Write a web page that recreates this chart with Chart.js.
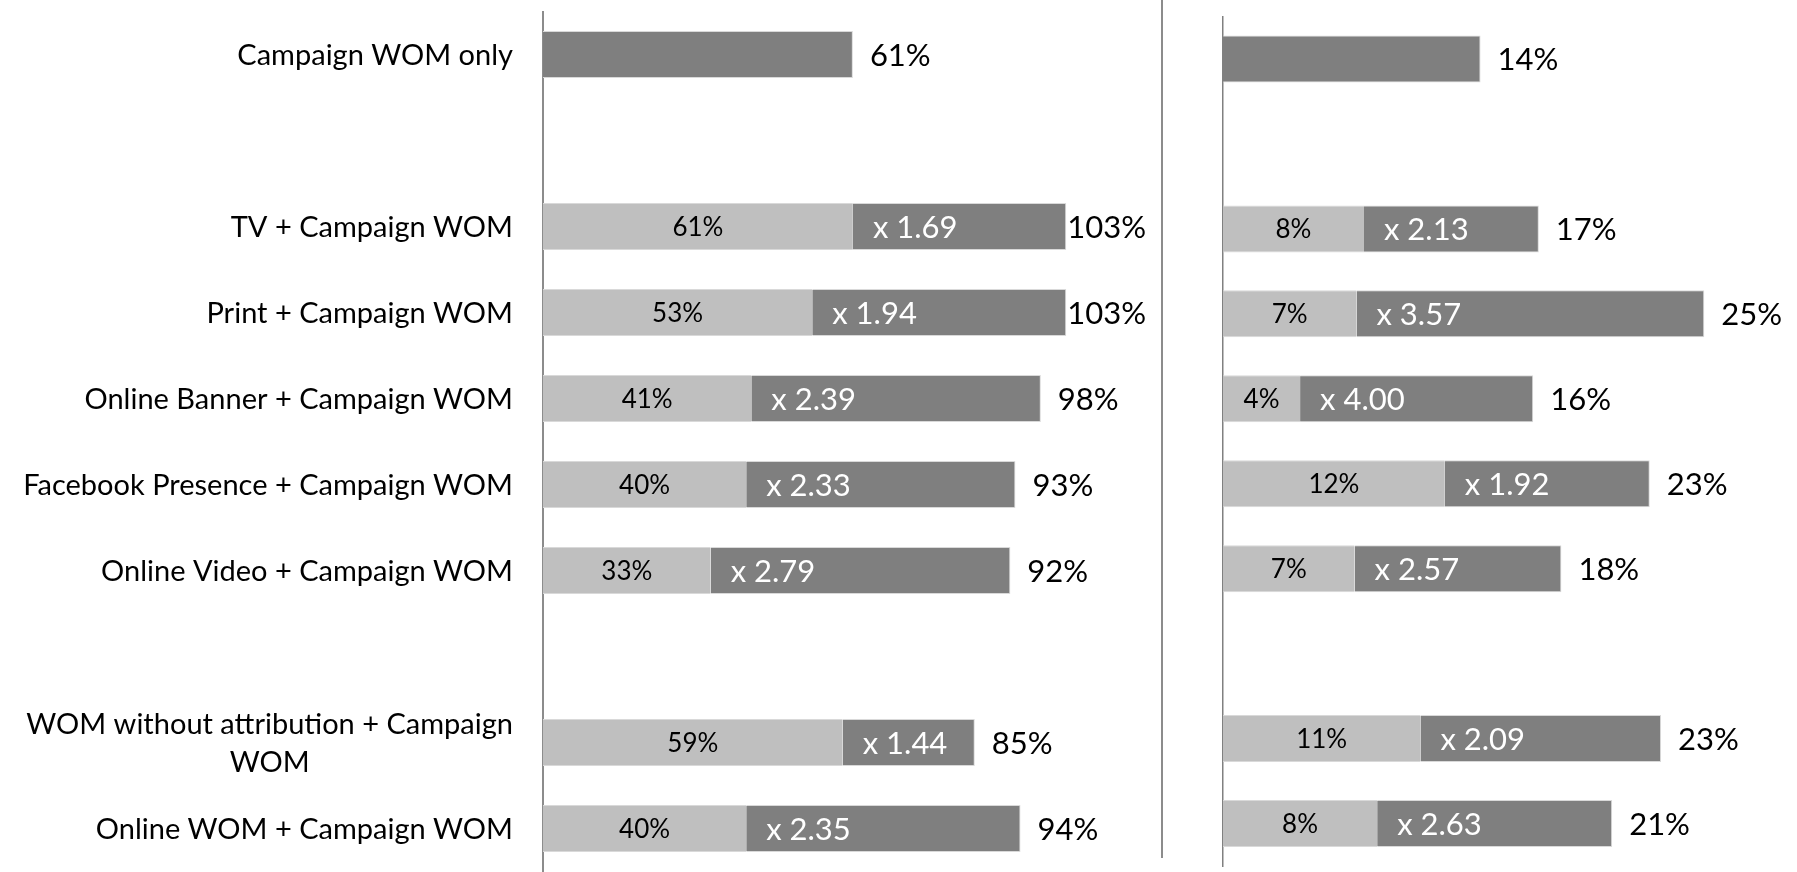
<!DOCTYPE html>
<html><head><meta charset="utf-8">
<script src="https://cdn.jsdelivr.net/npm/chart.js@4.4.0/dist/chart.umd.min.js"></script>
<style>
html,body{margin:0;padding:0;background:#fff;width:1797px;height:872px;overflow:hidden}
#wrapL{position:absolute;left:0;top:0;width:1160px;height:872px}
#wrapR{position:absolute;left:1160px;top:0;width:637px;height:872px}
#divider{position:absolute;left:1161px;top:0;width:2px;height:858px;background:#8c8c8c}
</style></head><body>
<div id="wrapL"><canvas id="cL" width="1160" height="872"></canvas></div>
<div id="wrapR"><canvas id="cR" width="637" height="872"></canvas></div>
<div id="divider"></div>
<script>
// ---- data ----
const categories = [
  'Campaign WOM only', '',
  'TV + Campaign WOM',
  'Print + Campaign WOM',
  'Online Banner + Campaign WOM',
  'Facebook Presence + Campaign WOM',
  'Online Video + Campaign WOM', '',
  ['WOM without attribution + Campaign', 'WOM'],
  'Online WOM + Campaign WOM'
];
// left panel
const leftBase  = [null, null, 61, 53, 41, 40, 33, null, 59, 40];
const leftTotal = [61, null, 103, 103, 98, 93, 92, null, 85, 94];
const leftBaseLabels  = ['', '', '61%', '53%', '41%', '40%', '33%', '', '59%', '40%'];
const leftMultLabels  = ['', '', 'x 1.69', 'x 1.94', 'x 2.39', 'x 2.33', 'x 2.79', '', 'x 1.44', 'x 2.35'];
const leftTotalLabels = ['61%', '', '103%', '103%', '98%', '93%', '92%', '', '85%', '94%'];
// right panel
const rightBase  = [null, null, 7.5, 7.1, 4.1, 11.8, 7.0, null, 10.5, 8.2];
const rightTotal = [13.7, null, 16.8, 25.6, 16.5, 22.7, 18.0, null, 23.3, 20.7];
const rightBaseLabels  = ['', '', '8%', '7%', '4%', '12%', '7%', '', '11%', '8%'];
const rightMultLabels  = ['', '', 'x 2.13', 'x 3.57', 'x 4.00', 'x 1.92', 'x 2.57', '', 'x 2.09', 'x 2.63'];
const rightTotalLabels = ['14%', '', '17%', '25%', '16%', '23%', '18%', '', '23%', '21%'];

// ---- styling ----
const FONT = 'Lato, "Open Sans", sans-serif';
const LIGHT = '#bfbfbf', DARK = '#7f7f7f', EDGE = '#d9d9d9';
const CAP = 0.72;
const CAT_SIZE = 29, BASE_SIZE = 26, MULT_SIZE = 31, TOTAL_SIZE = 31;

function textAt(ctx, txt, x, yc, size, color, align) {
  ctx.font = size + 'px ' + FONT;
  ctx.fillStyle = color;
  ctx.textAlign = align;
  ctx.textBaseline = 'alphabetic';
  ctx.fillText(txt, x, yc + CAP * size / 2);
}

function makeLabelPlugin(o) {
  return {
    id: 'barLabels',
    afterDatasetsDraw(chart) {
      const ctx = chart.ctx;
      const m0 = chart.getDatasetMeta(0), m1 = chart.getDatasetMeta(1);
      const yScale = chart.scales.y;
      ctx.save();
      if (o.categories) {
        o.categories.forEach((lab, i) => {
          const lines = Array.isArray(lab) ? lab : [lab];
          if (!lines[0]) return;
          const yc = yScale.getPixelForValue(i);
          ctx.font = CAT_SIZE + 'px ' + FONT;
          const w = Math.max(...lines.map(l => ctx.measureText(l).width));
          const right = chart.chartArea.left - 30;
          lines.forEach((l, k) => {
            const y = yc + (k - (lines.length - 1) / 2) * 38;
            textAt(ctx, l, right - w / 2, y, CAT_SIZE, '#000', 'center');
          });
        });
      }
      o.base.forEach((v, i) => {
        const total = o.total[i];
        if (total == null) return;
        const dark = m1.data[i].getProps(['x', 'y', 'base'], true);
        if (v != null) {
          const light = m0.data[i].getProps(['x', 'y', 'base'], true);
          textAt(ctx, o.baseLabels[i], (light.x + light.base) / 2, light.y, BASE_SIZE, '#000', 'center');
          textAt(ctx, o.multLabels[i], dark.base + 20, dark.y, MULT_SIZE, '#fff', 'left');
        }
        ctx.font = TOTAL_SIZE + 'px ' + FONT;
        const tw = ctx.measureText(o.totalLabels[i]).width;
        let tx = dark.x + 17;
        if (o.clampRight && tx + tw > o.clampRight) tx = o.clampRight - tw;
        textAt(ctx, o.totalLabels[i], tx, dark.y, TOTAL_SIZE, '#000', 'left');
      });
      ctx.restore();
    }
  };
}

function makeChart(id, base, total, o) {
  const lift = total.map((t, i) => t == null ? null : t - (base[i] || 0));
  return new Chart(document.getElementById(id), {
    type: 'bar',
    data: {
      labels: categories.map(c => Array.isArray(c) ? c.join(' ') : c),
      datasets: [
        { data: base, backgroundColor: LIGHT, borderColor: EDGE,
          borderWidth: {top: 1, bottom: 1, left: 0, right: 0}, borderSkipped: false,
          barPercentage: o.barPct, categoryPercentage: 1 },
        { data: lift, backgroundColor: DARK, borderColor: EDGE,
          borderWidth: {top: 1, bottom: 1, left: 0, right: 1}, borderSkipped: false,
          barPercentage: o.barPct, categoryPercentage: 1 }
      ]
    },
    options: {
      indexAxis: 'y',
      responsive: false,
      animation: false,
      events: [],
      layout: { padding: o.padding },
      plugins: { legend: { display: false }, tooltip: { enabled: false } },
      scales: {
        x: { type: 'linear', stacked: true, min: 0, max: o.max, display: false },
        y: { type: 'category', stacked: true, offset: true,
             grid: { display: false, drawTicks: false },
             ticks: { display: false },
             border: { display: true, color: o.axisColor, width: o.axisWidth },
             afterFit(s) { s.width = o.axisW; } }
      }
    },
    plugins: [makeLabelPlugin(o.labels)]
  });
}

makeChart('cL', leftBase, leftTotal, {
  barPct: 47 / 86, max: 120, axisW: 543, axisColor: '#8c8c8c', axisWidth: 2,
  padding: { top: 11.5, bottom: 0.5, left: 0, right: 7.4 },
  labels: { categories, base: leftBase, total: leftTotal, baseLabels: leftBaseLabels,
            multLabels: leftMultLabels, totalLabels: leftTotalLabels, clampRight: 1146 }
});
makeChart('cR', rightBase, rightTotal, {
  barPct: 47 / 84.95, max: 30, axisW: 63, axisColor: '#808080', axisWidth: 1.5,
  padding: { top: 16.5, bottom: 6, left: 0, right: 10 },
  labels: { base: rightBase, total: rightTotal, baseLabels: rightBaseLabels,
            multLabels: rightMultLabels, totalLabels: rightTotalLabels }
});
</script>
</body></html>
